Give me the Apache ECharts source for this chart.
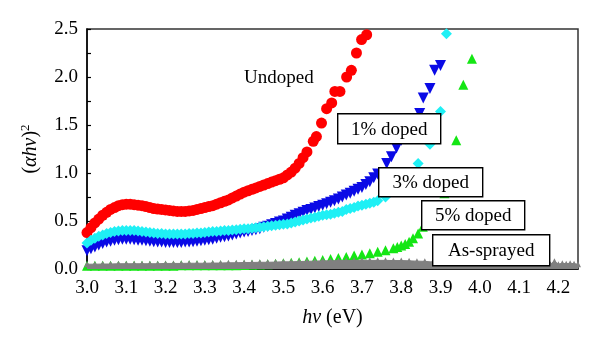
<!DOCTYPE html>
<html>
<head>
<meta charset="utf-8">
<script src="https://cdn.jsdelivr.net/npm/echarts@6/dist/echarts.min.js"></script>
<style>
  html, body { margin: 0; padding: 0; background: #fff; }
  #chart { width: 600px; height: 349px; }
</style>
</head>
<body>
<div id="chart"></div>
<script>
// Photon energy (eV) and (alpha h nu)^2 for each film
const undopedE = [3.00,3.01,3.02,3.03,3.04,3.05,3.06,3.07,3.08,3.09,3.10,3.11,3.12,3.13,3.14,3.15,3.16,3.17,3.18,3.19,
  3.20,3.21,3.22,3.23,3.24,3.25,3.26,3.27,3.28,3.29,3.30,3.31,3.32,3.33,3.34,3.35,3.36,3.37,3.38,3.39,
  3.40,3.41,3.42,3.43,3.44,3.45,3.46,3.47,3.48,3.49,3.50,3.51,3.52,3.53,3.54,3.55,3.56,
  3.576,3.584,3.597,3.610,3.623,3.631,3.644,3.661,3.673,3.686,3.699,3.712];
const undopedA = [0.38,0.43,0.48,0.52,0.56,0.59,0.62,0.64,0.66,0.67,0.675,0.675,0.67,0.665,0.66,0.65,0.64,0.63,0.625,0.62,
  0.615,0.61,0.605,0.60,0.60,0.60,0.605,0.61,0.62,0.63,0.64,0.65,0.66,0.675,0.69,0.705,0.72,0.74,0.76,0.78,
  0.80,0.815,0.83,0.845,0.86,0.875,0.89,0.905,0.92,0.935,0.95,0.98,1.01,1.05,1.10,1.16,1.22,
  1.33,1.38,1.52,1.67,1.73,1.85,1.85,2.00,2.07,2.25,2.39,2.44];

const doped1E = [3.00,3.01,3.02,3.03,3.04,3.05,3.06,3.07,3.08,3.09,3.10,3.11,3.12,3.13,3.14,3.15,3.16,3.17,3.18,3.19,
  3.20,3.21,3.22,3.23,3.24,3.25,3.26,3.27,3.28,3.29,3.30,3.31,3.32,3.33,3.34,3.35,3.36,3.37,3.38,3.39,
  3.40,3.41,3.42,3.43,3.44,3.45,3.46,3.47,3.48,3.49,3.50,3.51,3.52,3.53,3.54,3.55,3.56,3.57,3.58,3.59,
  3.60,3.61,3.62,3.63,3.64,3.65,3.66,3.67,3.68,3.69,3.70,3.71,3.72,3.73,3.74,
  3.763,3.775,3.788,3.800,3.820,3.835,3.847,3.856,3.873,3.885,3.900];
const doped1A = [0.19,0.21,0.23,0.25,0.265,0.28,0.29,0.30,0.305,0.31,0.31,0.31,0.305,0.30,0.30,0.295,0.29,0.285,0.28,0.28,
  0.275,0.275,0.275,0.275,0.275,0.28,0.28,0.285,0.29,0.295,0.30,0.305,0.31,0.32,0.33,0.335,0.345,0.355,0.365,0.375,
  0.385,0.39,0.40,0.41,0.42,0.435,0.445,0.46,0.475,0.49,0.50,0.52,0.54,0.56,0.575,0.59,0.61,0.62,0.635,0.65,
  0.665,0.68,0.695,0.71,0.73,0.75,0.77,0.79,0.81,0.83,0.85,0.88,0.91,0.95,0.99,
  1.10,1.17,1.26,1.34,1.45,1.55,1.62,1.78,1.88,2.07,2.12];

const doped3E = [3.00,3.01,3.02,3.03,3.04,3.05,3.06,3.07,3.08,3.09,3.10,3.11,3.12,3.13,3.14,3.15,3.16,3.17,3.18,3.19,
  3.20,3.21,3.22,3.23,3.24,3.25,3.26,3.27,3.28,3.29,3.30,3.31,3.32,3.33,3.34,3.35,3.36,3.37,3.38,3.39,
  3.40,3.41,3.42,3.43,3.44,3.45,3.46,3.47,3.48,3.49,3.50,3.51,3.52,3.53,3.54,3.55,3.56,3.57,3.58,3.59,
  3.60,3.61,3.62,3.63,3.64,3.65,3.66,3.67,3.68,3.69,3.70,3.71,3.72,3.73,3.74,
  3.76,3.78,3.80,3.82,3.843,3.873,3.900,3.915];
const doped3A = [0.27,0.30,0.32,0.34,0.355,0.37,0.38,0.39,0.395,0.40,0.40,0.40,0.40,0.395,0.39,0.385,0.38,0.375,0.37,0.37,
  0.365,0.365,0.365,0.365,0.365,0.365,0.37,0.37,0.375,0.375,0.38,0.385,0.39,0.39,0.395,0.40,0.40,0.405,0.41,0.415,
  0.42,0.42,0.425,0.43,0.435,0.44,0.445,0.45,0.455,0.46,0.465,0.47,0.48,0.49,0.50,0.51,0.52,0.53,0.54,0.55,
  0.56,0.565,0.57,0.58,0.59,0.60,0.62,0.63,0.64,0.655,0.665,0.675,0.685,0.695,0.71,
  0.75,0.82,0.90,0.99,1.10,1.30,1.64,2.45];

const doped5E = [3.00,3.02,3.04,3.06,3.08,3.10,3.12,3.14,3.16,3.18,3.20,3.22,3.24,3.26,3.28,3.30,3.32,3.34,3.36,3.38,
  3.40,3.42,3.44,3.46,3.48,3.50,3.52,3.54,3.56,3.58,3.60,3.62,3.64,3.66,3.68,3.70,3.72,3.74,3.76,3.78,
  3.79,3.80,3.81,3.82,3.83,3.843,3.855,3.870,3.890,3.910,3.925,3.940,3.958,3.980];
const doped5A = [0.035,0.035,0.035,0.035,0.035,0.035,0.035,0.035,0.035,0.035,0.035,0.035,0.038,0.038,0.038,0.04,0.04,0.04,0.04,0.04,
  0.042,0.045,0.048,0.05,0.055,0.06,0.065,0.07,0.078,0.085,0.095,0.105,0.115,0.125,0.14,0.15,0.165,0.18,0.195,0.215,
  0.23,0.245,0.26,0.285,0.32,0.37,0.44,0.55,0.66,0.79,1.00,1.34,1.92,2.19];

const sprayedE = [3.00,3.02,3.04,3.06,3.08,3.10,3.12,3.14,3.16,3.18,3.20,3.22,3.24,3.26,3.28,3.30,3.32,3.34,3.36,3.38,
  3.40,3.42,3.44,3.46,3.48,3.50,3.52,3.54,3.56,3.58,3.60,3.62,3.64,3.66,3.68,3.70,3.72,3.74,3.76,3.78,
  3.80,3.82,3.84,3.86,3.88,3.90,3.95,4.00,4.05,4.10,4.15,4.17,4.18,4.19,4.20,4.21,4.22,4.23,4.24,4.25];
const sprayedA = [0.05,0.05,0.052,0.052,0.055,0.055,0.055,0.055,0.055,0.055,0.058,0.058,0.058,0.06,0.06,0.06,0.062,0.062,0.065,0.065,
  0.068,0.068,0.07,0.07,0.072,0.075,0.075,0.078,0.08,0.082,0.085,0.085,0.088,0.088,0.09,0.09,0.09,0.09,0.09,0.088,
  0.088,0.085,0.082,0.08,0.072,0.06,0.05,0.05,0.045,0.04,0.04,0.045,0.05,0.08,0.05,0.06,0.055,0.06,0.055,0.05];

const yTicks = [0.0, 0.5, 1.0, 1.5, 2.0, 2.5];

const pairs = (xs, ys) => xs.map((x, i) => [x, ys[i]]);
const serif = 'Liberation Serif';
const font = size => size + 'px "' + serif + '"';

const chart = echarts.init(document.getElementById('chart'), null, { renderer: 'canvas' });

// Boxed annotation: white rectangle with a thin black frame and centred text
const boxLabel = (text, x, y, w, h) => ({
  type: 'group',
  left: x, top: y,
  z: 100, zlevel: 1,
  children: [
    { type: 'rect', z: 100, zlevel: 1, shape: { x: 0, y: 0, width: w, height: h },
      style: { fill: '#fff', stroke: '#000', lineWidth: 1.4 } },
    { type: 'text', z: 101, zlevel: 1, style: { text: text, x: w / 2, y: h / 2 + 1, align: 'center', verticalAlign: 'middle',
      font: font(19), fill: '#000' } }
  ]
});

chart.setOption({
  animation: false,
  backgroundColor: '#fff',
  grid: { left: 87, right: 22, top: 29, bottom: 80, show: true, borderColor: '#333', borderWidth: 1.5, backgroundColor: 'transparent' },
  xAxis: {
    type: 'value', min: 3.0, max: 4.25, interval: 0.1,
    name: '{i|hν} (eV)', nameLocation: 'middle', nameGap: 39,
    nameTextStyle: { fontFamily: serif, fontSize: 20, color: '#000',
      rich: { i: { fontFamily: serif, fontStyle: 'italic', fontSize: 20, color: '#000' } } },
    axisLine: { show: true, lineStyle: { color: '#000', width: 1.5 } },
    axisTick: { show: false },
    splitLine: { show: false },
    axisLabel: { showMaxLabel: false, margin: 10, fontFamily: serif, fontSize: 19, color: '#000',
      formatter: v => (Math.abs(v - 4.25) < 1e-6 ? '' : v.toFixed(1)) }
  },
  yAxis: {
    type: 'value', min: yTicks[0], max: yTicks[yTicks.length - 1], interval: 0.5,
    name: '({i|αhν}){s|2}', nameLocation: 'middle', nameGap: 45,
    nameTextStyle: { fontFamily: serif, fontSize: 20, color: '#000',
      rich: { i: { fontFamily: serif, fontStyle: 'italic', fontSize: 20, color: '#000' },
              s: { fontFamily: serif, fontSize: 13, color: '#000', verticalAlign: 'top', padding: [0, 0, 10, 0] } } },
    axisLine: { show: true, lineStyle: { color: '#000', width: 1.5 } },
    axisTick: { show: true, inside: true, length: 4, lineStyle: { color: '#000', width: 1.2 } },
    minorTick: { show: true, splitNumber: 2, length: 4, lineStyle: { color: '#000', width: 1.2 } },
    splitLine: { show: false },
    axisLabel: { margin: 9, fontFamily: serif, fontSize: 19, color: '#000', formatter: v => v.toFixed(1) }
  },
  series: [
    { name: 'Undoped', type: 'scatter', data: pairs(undopedE, undopedA), symbol: 'circle', symbolSize: 11,
      itemStyle: { color: '#ff0000', opacity: 1 }, z: 2 },
    { name: '1% doped', type: 'scatter', data: pairs(doped1E, doped1A), symbol: 'triangle', symbolRotate: 180, symbolSize: 11,
      itemStyle: { color: '#0a0ae6', opacity: 1 }, z: 3 },
    { name: '3% doped', type: 'scatter', data: pairs(doped3E, doped3A), symbol: 'diamond', symbolSize: [11, 11],
      itemStyle: { color: '#1ff0f5', opacity: 1 }, z: 4 },
    { name: '5% doped', type: 'scatter', data: pairs(doped5E, doped5A), symbol: 'triangle', symbolSize: 10,
      itemStyle: { color: '#14e614', opacity: 1 }, z: 5 },
    { name: 'As-sprayed', type: 'line', data: pairs(sprayedE, sprayedA), symbol: 'triangle', symbolSize: 6, showSymbol: true,
      lineStyle: { color: '#808080', width: 1 }, itemStyle: { color: '#808080', opacity: 1 },
      areaStyle: { color: '#808080', opacity: 1 }, z: 6 }
  ],
  graphic: [
    { type: 'text', left: 244, top: 69, z: 100, zlevel: 1,
      style: { text: 'Undoped', font: font(19), fill: '#000' } },
    boxLabel('1% doped', 337, 113, 103, 30),
    boxLabel('3% doped', 378, 167, 104, 29),
    boxLabel('5% doped', 421, 200, 103, 29),
    boxLabel('As-sprayed', 432, 234, 117, 31)
  ]
});
</script>
</body>
</html>
